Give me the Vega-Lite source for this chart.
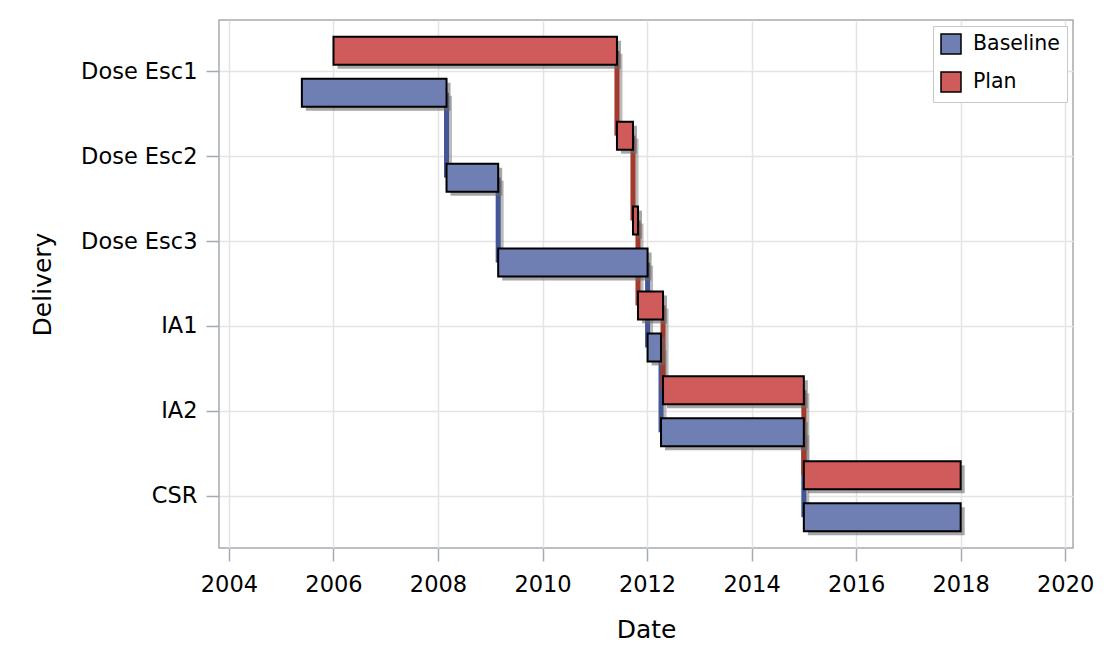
{
  "$schema": "https://vega.github.io/schema/vega-lite/v6.json",
  "width": 854,
  "height": 528,
  "autosize": "none",
  "padding": {"left": 219, "top": 20, "right": 33, "bottom": 114},
  "background": "white",
  "data": {
    "values": [
      {"Delivery": "Dose Esc1", "Group": "Plan", "Start": "2006-01-01", "End": "2011-06-05"},
      {"Delivery": "Dose Esc2", "Group": "Plan", "Start": "2011-06-05", "End": "2011-09-25"},
      {"Delivery": "Dose Esc3", "Group": "Plan", "Start": "2011-09-25", "End": "2011-10-30"},
      {"Delivery": "IA1", "Group": "Plan", "Start": "2011-10-30", "End": "2012-04-22"},
      {"Delivery": "IA2", "Group": "Plan", "Start": "2012-04-22", "End": "2015-01-01"},
      {"Delivery": "CSR", "Group": "Plan", "Start": "2015-01-01", "End": "2018-01-01"},
      {"Delivery": "Dose Esc1", "Group": "Baseline", "Start": "2005-05-25", "End": "2008-03-01"},
      {"Delivery": "Dose Esc2", "Group": "Baseline", "Start": "2008-03-01", "End": "2009-02-25"},
      {"Delivery": "Dose Esc3", "Group": "Baseline", "Start": "2009-02-25", "End": "2012-01-05"},
      {"Delivery": "IA1", "Group": "Baseline", "Start": "2012-01-05", "End": "2012-04-08"},
      {"Delivery": "IA2", "Group": "Baseline", "Start": "2012-04-08", "End": "2015-01-01"},
      {"Delivery": "CSR", "Group": "Baseline", "Start": "2015-01-01", "End": "2018-01-01"}
    ]
  },
  "config": {
    "font": "DejaVu Sans",
    "view": {"stroke": "#a4aab0", "strokeWidth": 1.5},
    "axis": {
      "labelFontSize": 22.5,
      "labelColor": "#000000",
      "titleFontSize": 25,
      "titleFontWeight": "normal",
      "titleColor": "#000000",
      "tickColor": "#a4aab0",
      "tickWidth": 1.5,
      "tickSize": 13,
      "domain": false,
      "grid": true,
      "gridColor": "#e4e4e4",
      "gridWidth": 1.5
    },
    "legend": {
      "orient": "top-right",
      "offset": 6,
      "strokeColor": "#c8c8c8",
      "fillColor": "white",
      "padding": 7,
      "symbolType": "square",
      "symbolSize": 400,
      "symbolStrokeColor": "black",
      "symbolStrokeWidth": 1.5,
      "symbolOpacity": 1,
      "labelFontSize": 20.5,
      "labelColor": "#000000",
      "labelOffset": 11,
      "rowPadding": 12
    }
  },
  "layer": [
    {
      "transform": [
        {"filter": "datum.Group === 'Baseline'"},
        {"window": [{"op": "lead", "field": "Delivery", "as": "Next"}], "sort": [{"field": "Start", "order": "ascending"}]},
        {"filter": "datum.Next != null"}
      ],
      "mark": {"type": "rule", "color": "#777777", "opacity": 0.5, "strokeWidth": 5, "xOffset": 3, "yOffset": 24, "y2Offset": 24},
      "encoding": {
        "x": {
          "field": "End", "type": "temporal", "title": "Date",
          "scale": {"type": "utc", "domain": [{"year": 2003, "month": 10, "date": 24, "utc": true}, {"year": 2020, "month": 2, "date": 25, "utc": true}]},
          "axis": {
            "values": [
              {"year": 2004, "utc": true}, {"year": 2006, "utc": true}, {"year": 2008, "utc": true},
              {"year": 2010, "utc": true}, {"year": 2012, "utc": true}, {"year": 2014, "utc": true},
              {"year": 2016, "utc": true}, {"year": 2018, "utc": true}, {"year": 2020, "utc": true}
            ],
            "format": "%Y",
            "labelPadding": 12,
            "titlePadding": 22
          }
        },
        "y": {
          "field": "Delivery", "type": "nominal", "title": "Delivery",
          "scale": {"domain": ["Dose Esc1", "Dose Esc2", "Dose Esc3", "IA1", "IA2", "CSR"], "paddingInner": 0, "paddingOuter": 0.11},
          "axis": {"bandPosition": 0.5, "labelPadding": 9, "titlePadding": 25}
        },
        "y2": {"field": "Next"}
      }
    },
    {
      "transform": [
        {"filter": "datum.Group === 'Plan'"},
        {"window": [{"op": "lead", "field": "Delivery", "as": "Next"}], "sort": [{"field": "Start", "order": "ascending"}]},
        {"filter": "datum.Next != null"}
      ],
      "mark": {"type": "rule", "color": "#777777", "opacity": 0.5, "strokeWidth": 5, "xOffset": 3, "yOffset": -18, "y2Offset": -18},
      "encoding": {
        "x": {"field": "End", "type": "temporal", "title": "Date"},
        "y": {"field": "Delivery", "type": "nominal", "title": "Delivery"},
        "y2": {"field": "Next"}
      }
    },
    {
      "transform": [
        {"filter": "datum.Group === 'Baseline'"},
        {"window": [{"op": "lead", "field": "Delivery", "as": "Next"}], "sort": [{"field": "Start", "order": "ascending"}]},
        {"filter": "datum.Next != null"}
      ],
      "mark": {"type": "rule", "color": "#445694", "strokeWidth": 5, "yOffset": 21, "y2Offset": 21},
      "encoding": {
        "x": {"field": "End", "type": "temporal", "title": "Date"},
        "y": {"field": "Delivery", "type": "nominal", "title": "Delivery"},
        "y2": {"field": "Next"}
      }
    },
    {
      "transform": [
        {"filter": "datum.Group === 'Plan'"},
        {"window": [{"op": "lead", "field": "Delivery", "as": "Next"}], "sort": [{"field": "Start", "order": "ascending"}]},
        {"filter": "datum.Next != null"}
      ],
      "mark": {"type": "rule", "color": "#A23A2E", "strokeWidth": 5, "yOffset": -21, "y2Offset": -21},
      "encoding": {
        "x": {"field": "End", "type": "temporal", "title": "Date"},
        "y": {"field": "Delivery", "type": "nominal", "title": "Delivery"},
        "y2": {"field": "Next"}
      }
    },
    {
      "transform": [{"filter": "datum.Group === 'Baseline'"}],
      "mark": {"type": "bar", "height": 28, "color": "#6a6a6a", "opacity": 0.6, "xOffset": 4, "x2Offset": 4, "yOffset": 25},
      "encoding": {
        "x": {"field": "Start", "type": "temporal", "title": "Date"},
        "x2": {"field": "End"},
        "y": {"field": "Delivery", "type": "nominal", "title": "Delivery"}
      }
    },
    {
      "transform": [{"filter": "datum.Group === 'Plan'"}],
      "mark": {"type": "bar", "height": 28, "color": "#6a6a6a", "opacity": 0.6, "xOffset": 4, "x2Offset": 4, "yOffset": -17},
      "encoding": {
        "x": {"field": "Start", "type": "temporal", "title": "Date"},
        "x2": {"field": "End"},
        "y": {"field": "Delivery", "type": "nominal", "title": "Delivery"}
      }
    },
    {
      "transform": [{"filter": "datum.Group === 'Baseline'"}],
      "mark": {"type": "bar", "height": 28, "yOffset": 21, "stroke": "black", "strokeWidth": 2, "opacity": 1},
      "encoding": {
        "x": {"field": "Start", "type": "temporal", "title": "Date"},
        "x2": {"field": "End"},
        "y": {"field": "Delivery", "type": "nominal", "title": "Delivery"},
        "color": {
          "field": "Group", "type": "nominal",
          "scale": {"domain": ["Baseline", "Plan"], "range": ["#6F7EB3", "#D05B5B"]},
          "legend": {"title": null}
        }
      }
    },
    {
      "transform": [{"filter": "datum.Group === 'Plan'"}],
      "mark": {"type": "bar", "height": 28, "yOffset": -21, "stroke": "black", "strokeWidth": 2, "opacity": 1},
      "encoding": {
        "x": {"field": "Start", "type": "temporal", "title": "Date"},
        "x2": {"field": "End"},
        "y": {"field": "Delivery", "type": "nominal", "title": "Delivery"},
        "color": {"field": "Group", "type": "nominal", "legend": {"title": null}}
      }
    }
  ]
}
